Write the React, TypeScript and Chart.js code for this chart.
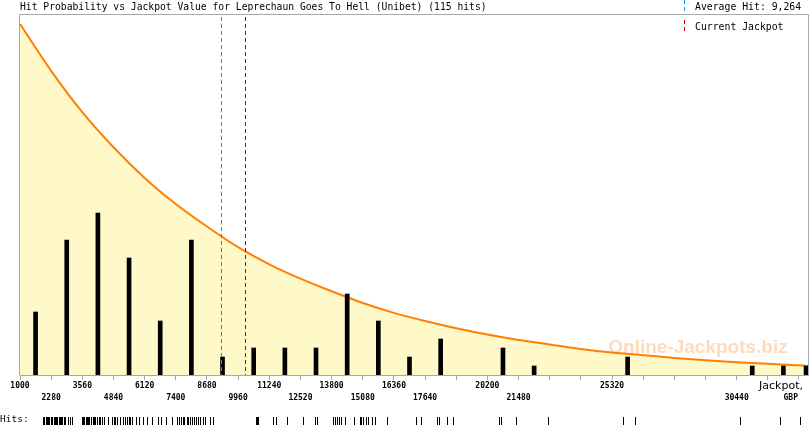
import React, { useEffect, useRef } from 'react';
import { Chart, registerables } from 'chart.js';

Chart.register(...registerables);

const titleText = 'Hit Probability vs Jackpot Value for Leprechaun Goes To Hell (Unibet) (115 hits)';
const legendAverage = 'Average Hit: 9,264';
const legendCurrent = 'Current Jackpot';
const axisTitleTop = 'Jackpot,';
const axisTitleBottom = 'GBP';
const watermark = 'Online-Jackpots.biz';

const averageHit = 9264;
const currentJackpot = 10250;

const xMin = 1000;
const xMax = 33370;
const yMax = 40;

// histogram bars (bin centres, hit counts)
const binCenters = [1640, 2920, 4200, 5480, 6760, 8040, 9320, 10600, 11880, 13160, 14440, 15720, 17000, 18280, 20840, 22120, 25960, 31080, 32360, 33290];
const binCounts = [7, 15, 18, 13, 6, 15, 2, 3, 3, 3, 9, 6, 2, 4, 3, 1, 2, 1, 1, 1];

// probability curve read at each tick
const curveX = [1000, 2280, 3560, 4840, 6120, 7400, 8680, 9960, 11240, 12520, 13800, 15080, 16360, 17640, 18920, 20200, 21480, 22760, 24040, 25320, 26600, 27880, 29160, 30440, 31720, 33000, 33370];
const curveY = [39.0, 33.8, 29.2, 25.3, 21.9, 19.0, 16.5, 14.2, 12.3, 10.7, 9.3, 8.0, 6.9, 6.0, 5.2, 4.5, 3.9, 3.4, 2.9, 2.5, 2.2, 1.9, 1.65, 1.43, 1.24, 1.07, 1.0];

// axis ticks and their two-row labels
const tickValues = [1000, 2280, 3560, 4840, 6120, 7400, 8680, 9960, 11240, 12520, 13800, 15080, 16360, 17640, 18920, 20200, 21480, 22760, 24040, 25320, 26600, 27880, 29160, 30440, 31720, 33000];
const tickLabelsTop = ['1000', '', '3560', '', '6120', '', '8680', '', '11240', '', '13800', '', '16360', '', '', '20200', '', '', '', '25320', '', '', '', '', '', ''];
const tickLabelsBottom = ['', '2280', '', '4840', '', '7400', '', '9960', '', '12520', '', '15080', '', '17640', '', '', '21480', '', '', '', '', '', '', '30440', '', ''];

// individual hits (rug)
const hitValues = [
  1950, 2000, 2060, 2120, 2150, 2210, 2260,
  2300, 2330, 2390, 2450, 2480, 2520, 2600, 2650, 2700, 2730, 2790, 2850, 2960, 3050, 3150,
  3560, 3600, 3640, 3700, 3760, 3800, 3850, 3930, 3990, 4040, 4100, 4150, 4230, 4300, 4380, 4450, 4600, 4760,
  4850, 4900, 4990, 5120, 5250, 5330, 5400, 5470, 5520, 5600, 5750, 5900, 6050,
  6200, 6420, 6650, 6800, 7000, 7250,
  7450, 7520, 7600, 7680, 7750, 7850, 7900, 7980, 8050, 8150, 8250, 8300, 8400, 8500, 8600,
  8800, 8930,
  10690, 10720, 10760,
  11390, 11520, 11970,
  12630, 13120, 13200,
  13860, 13940, 14030, 14110, 14200, 14350, 14700, 14950, 15000,
  15100, 15200, 15300, 15450, 15600, 16070,
  17280, 17470,
  18130, 18210, 18540, 18790,
  20680, 20760, 21380,
  22700,
  25770, 26260,
  30580,
  32220,
  33040,
];

const MONO = '"DejaVu Sans Mono", "Liberation Mono", monospace';
const BLUE = '#1e90e8';
const RED = '#c00000';

function dashedV(ctx: CanvasRenderingContext2D, x: number, y0: number, y1: number, color: string) {
  ctx.fillStyle = color;
  for (let y = y0; y < y1; y += 7) {
    ctx.fillRect(x, y, 1, Math.min(4, y1 - y));
  }
}

const overlayPlugin = {
  id: 'overlay',
  afterDatasetsDraw(chart: any) {
    const ctx = chart.ctx;
    const area = chart.chartArea;
    ctx.save();
    ctx.font = `bold 19px "Liberation Sans", Arial, sans-serif`;
    ctx.fillStyle = 'rgba(255, 140, 40, 0.32)';
    ctx.textAlign = 'center';
    ctx.textBaseline = 'middle';
    ctx.fillText(watermark, 698, area.bottom - 27);
    ctx.restore();
  },
  afterDraw(chart: any) {
    const ctx = chart.ctx;
    const area = chart.chartArea;
    const xs = chart.scales.x;
    ctx.save();

    // frame
    ctx.strokeStyle = '#a8a8a8';
    ctx.lineWidth = 1;
    ctx.beginPath();
    ctx.moveTo(Math.round(area.left) - 0.5, area.bottom);
    ctx.lineTo(Math.round(area.left) - 0.5, Math.round(area.top) - 0.5);
    ctx.lineTo(Math.round(area.right) + 0.5, Math.round(area.top) - 0.5);
    ctx.lineTo(Math.round(area.right) + 0.5, area.bottom);
    ctx.stroke();

    // vertical markers
    dashedV(ctx, Math.round(xs.getPixelForValue(averageHit)), area.top + 2, area.bottom, BLUE);
    dashedV(ctx, Math.round(xs.getPixelForValue(currentJackpot)), area.top + 2, area.bottom, RED);

    // legend markers
    dashedV(ctx, 684, 0, 14, BLUE);
    dashedV(ctx, 684, 20, 34, RED);

    // title and legend text
    ctx.fillStyle = '#000';
    ctx.textBaseline = 'middle';
    ctx.textAlign = 'left';
    ctx.font = `9.7px ${MONO}`;
    ctx.fillText(titleText, 20, 7);
    ctx.font = `9.8px ${MONO}`;
    ctx.fillText(legendAverage, 695, 7);
    ctx.fillText(legendCurrent, 695, 27);

    // axis title
    ctx.textAlign = 'right';
    ctx.font = `11px "DejaVu Sans", sans-serif`;
    ctx.fillText(axisTitleTop, 803, 386);
    ctx.font = `bold 8px ${MONO}`;
    ctx.fillText(axisTitleBottom, 798, 398);

    // hits rug
    ctx.textAlign = 'left';
    ctx.font = `9.5px ${MONO}`;
    ctx.fillText('Hits:', 0, 420);
    ctx.fillStyle = '#000';
    for (const v of hitValues) {
      const px = Math.round(xs.getPixelForValue(v));
      ctx.fillRect(px, 417, 1, 8);
    }
    ctx.restore();
  },
};

export default function App() {
  const ref = useRef<HTMLCanvasElement | null>(null);

  useEffect(() => {
    document.body.style.margin = '0';
    const canvas = ref.current;
    if (!canvas) return;
    const chart = new Chart(canvas, {
      type: 'bar',
      data: {
        datasets: [
          {
            type: 'bar',
            label: 'Hits',
            data: binCenters.map((x, i) => ({ x, y: binCounts[i] })),
            backgroundColor: '#000',
            borderWidth: 0,
            barThickness: 4,
            order: 0,
          } as any,
          {
            type: 'line',
            label: 'Probability',
            data: curveX.map((x, i) => ({ x, y: curveY[i] })),
            borderColor: '#ff8000',
            borderWidth: 2,
            backgroundColor: '#fff8c8',
            fill: 'origin',
            pointRadius: 0,
            cubicInterpolationMode: 'monotone',
            order: 1,
          } as any,
        ],
      },
      options: {
        animation: false,
        responsive: false,
        devicePixelRatio: 1,
        layout: { padding: { left: 20, top: 15, right: 2, bottom: 0 } },
        plugins: {
          legend: { display: false },
          tooltip: { enabled: false },
          title: { display: false },
        },
        scales: {
          x: {
            type: 'linear',
            min: xMin,
            max: xMax,
            offset: false,
            afterBuildTicks: (scale: any) => {
              scale.ticks = tickValues.map((v) => ({ value: v }));
            },
            afterFit: (scale: any) => {
              scale.height = 50;
            },
            ticks: {
              autoSkip: false,
              maxRotation: 0,
              minRotation: 0,
              padding: 0,
              color: '#000',
              font: { family: MONO, size: 8, weight: 'bold', lineHeight: 1.5 },
              callback: (_v: any, index: number) => [tickLabelsTop[index] ?? '', tickLabelsBottom[index] ?? ''],
            },
            grid: {
              display: true,
              drawOnChartArea: false,
              drawTicks: true,
              tickLength: 5,
              color: '#a8a8a8',
              offset: false,
            },
            border: { display: true, color: '#a8a8a8' },
          },
          y: {
            display: false,
            min: 0,
            max: yMax,
          },
        },
      } as any,
      plugins: [overlayPlugin],
    });
    return () => chart.destroy();
  }, []);

  return (
    <div style={{ width: 810, height: 425, background: '#fff' }}>
      <canvas ref={ref} width={810} height={425} style={{ display: 'block' }} />
    </div>
  );
}
